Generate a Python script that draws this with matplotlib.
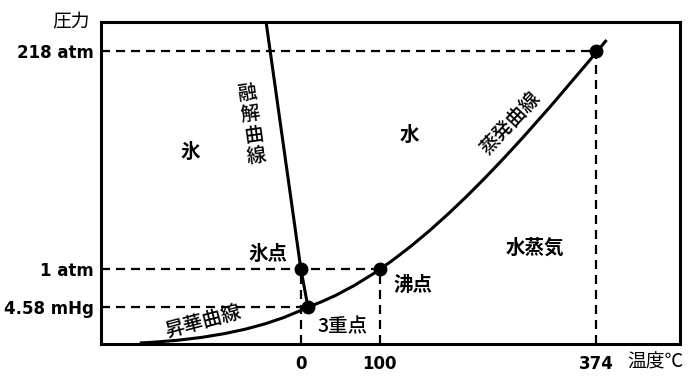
import numpy as np
import matplotlib
matplotlib.use("Agg")
import matplotlib.pyplot as plt
from matplotlib.path import Path
from matplotlib.patches import PathPatch

plt.rcParams['font.family'] = ['Noto Sans CJK JP', 'DejaVu Sans']
plt.rcParams['lines.scale_dashes'] = False

# schematic phase diagram of water (x: temperature-like, y: schematic pressure height)
x_ticks = [0, 100, 374]
x_tick_labels = ['0', '100', '374']
y_ticks = [37, 75, 293]
y_tick_labels = ['4.58 mHg', '1 atm', '218 atm']

triple = (9, 37)
ice_pt = (0, 75)
boil_pt = (100, 75)
crit_pt = (374, 293)

# sublimation curve: quadratic bezier (start, control, triple point)
sub_ctrl = [(-204, 1), (-69, 6), triple]
# melting curve
melt_x = [9, 0, -44]
melt_y = [37, 75, 322]
# vaporization curve: cubic bezier (triple point, controls, end past critical point)
vap_ctrl = [triple, (135, 72), (261, 184), (387, 304)]

xlim = (-253, 480)
ylim = (0, 322)

fig = plt.figure(figsize=(7, 3.8), dpi=100)
ax = fig.add_axes([101 / 700, 36 / 380, 579 / 700, 322 / 380])
ax.set_xlim(*xlim)
ax.set_ylim(*ylim)

lw = 2.2
dash = (0, (6.5, 4.3))

# dashed guides
for px, py in [triple, boil_pt, crit_pt]:
    ax.plot([xlim[0], px], [py, py], color='black', lw=1.6, linestyle=dash, zorder=1)
for px, py in [ice_pt, boil_pt, crit_pt]:
    ax.plot([px, px], [0, py], color='black', lw=1.6, linestyle=dash, zorder=1)

sub_path = Path(sub_ctrl, [Path.MOVETO, Path.CURVE3, Path.CURVE3])
vap_path = Path(vap_ctrl, [Path.MOVETO, Path.CURVE4, Path.CURVE4, Path.CURVE4])
ax.add_patch(PathPatch(sub_path, fill=False, edgecolor='black', lw=lw, zorder=2))
ax.add_patch(PathPatch(vap_path, fill=False, edgecolor='black', lw=lw, zorder=2))
ax.plot(melt_x, melt_y, color='black', lw=lw, zorder=2)

for p in [triple, ice_pt, boil_pt, crit_pt]:
    ax.plot(p[0], p[1], 'o', color='black', markersize=9, zorder=3)

for s in ax.spines.values():
    s.set_linewidth(2.2)

ax.set_xticks(x_ticks)
ax.set_xticklabels(x_tick_labels, fontsize=12, fontweight='bold', family='DejaVu Sans')
ax.set_yticks(y_ticks)
ax.set_yticklabels(y_tick_labels, fontsize=12, fontweight='bold', family='DejaVu Sans')
ax.tick_params(length=0, pad=5)
ax.tick_params(axis='x', pad=8)

ax.text(-0.02, 1.0, '圧力', transform=ax.transAxes, ha='right', va='center', fontsize=13.5)
ax.text(0.957, -0.056, '温度℃', transform=ax.transAxes, ha='center', va='center', fontsize=13.5)

bold = dict(fontsize=14, fontweight='bold', ha='center', va='center')
ax.text(-140, 192, '氷', **bold)
ax.text(138, 209, '水', **bold)
ax.text(296, 96, '水蒸気', **bold)
ax.text(-42, 90, '氷点', **bold)
ax.text(142, 59, '沸点', **bold)
plain = dict(fontsize=14, fontweight='medium', ha='center', va='center')
ax.text(53, 17, '3重点', **plain)
ax.text(-124, 22, '昇華曲線', rotation=15, **plain)
ax.text(265, 221, '蒸発曲線', rotation=47, **plain)
ax.text(-62, 219, '\n'.join('融解曲線'), rotation=8, linespacing=1.15, **plain)

fig.savefig('out.png', dpi=100)
